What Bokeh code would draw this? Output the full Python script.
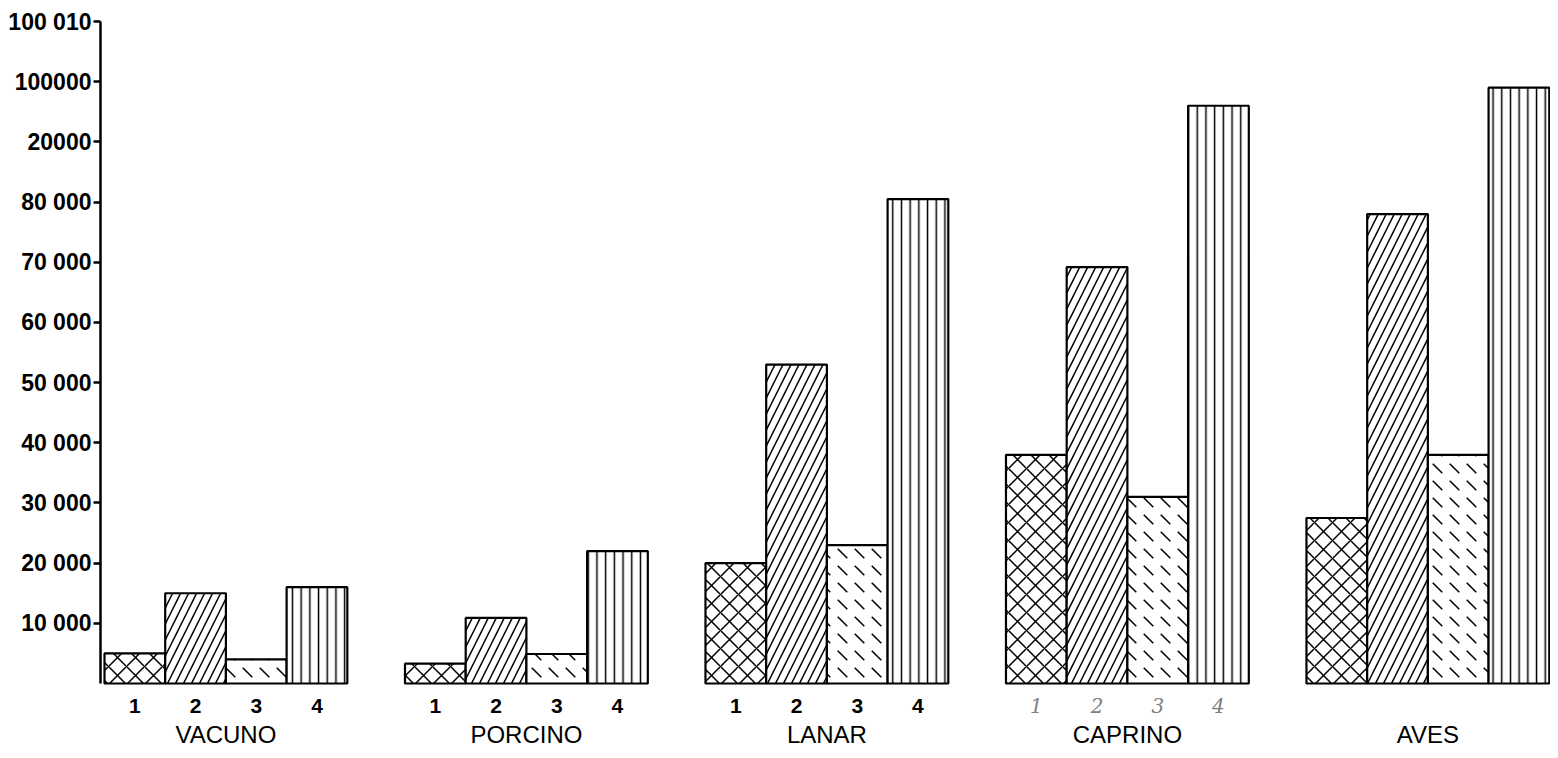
from bokeh.plotting import figure
from bokeh.models import ColumnDataSource, FixedTicker, Range1d
from bokeh.core.properties import value
from bokeh.embed import file_html
from bokeh.resources import INLINE

# ---- data ----
groups = ["VACUNO", "PORCINO", "LANAR", "CAPRINO", "AVES"]
serie_1 = [5000, 3300, 20000, 38000, 27500]
serie_2 = [15000, 10900, 53000, 69200, 78000]
serie_3 = [4000, 4900, 23000, 31000, 38000]
serie_4 = [16000, 22000, 80500, 96000, 99000]
bar_numbers = ["1", "2", "3", "4"]
y_ticks = [10000, 20000, 30000, 40000, 50000, 60000, 70000, 80000, 90000, 100000, 110000]
y_tick_labels = ["10 000", "20 000", "30 000", "40 000", "50 000", "60 000",
                 "70 000", "80 000", "20000", "100000", "100 010"]

# ---- layout constants ----
GROUP_STEP = 4.95
BAR_W = 1.0
FONT = "Liberation Sans"
PX = (683 - 21) / 110000.0          # pixels per unit on y
Y_START = -(750 - 683) / PX
Y_END = 110000 + 1 / PX

p = figure(width=1550, height=750, output_backend="svg", toolbar_location=None,
           x_range=Range1d(-0.066, 23.82), y_range=Range1d(Y_START, Y_END),
           min_border_left=100, min_border_right=0, min_border_top=20, min_border_bottom=0)
p.outline_line_color = None
p.grid.visible = False
p.xaxis.visible = False
p.background_fill_color = "white"
p.border_fill_color = "white"

series = [serie_1, serie_2, serie_3, serie_4]
patterns = ["diagonal_cross", "right_diagonal_line", "left_diagonal_dash", "vertical_line"]
scales = [18, 16, 17, 8.7]

for i, (vals, pat, sc) in enumerate(zip(series, patterns, scales)):
    xs = [g * GROUP_STEP + i + BAR_W / 2 for g in range(len(groups))]
    src = ColumnDataSource(dict(x=xs, top=vals))
    p.vbar(x="x", top="top", bottom=0, width=BAR_W, source=src,
           fill_color="white", line_color="black", line_width=2.2,
           hatch_pattern=pat, hatch_scale=sc, hatch_weight=1.5, hatch_color="black")

# y axis
ax = p.yaxis[0]
ax.bounds = (0, 110000)
ax.ticker = FixedTicker(ticks=y_ticks)
ax.major_label_overrides = {t: l for t, l in zip(y_ticks, y_tick_labels)}
ax.axis_line_width = 2.5
ax.axis_line_color = "black"
ax.major_tick_line_width = 2.5
ax.major_tick_line_color = "black"
ax.major_tick_out = 7
ax.major_tick_in = 0
ax.minor_tick_line_color = None
ax.major_label_standoff = 2
ax.major_label_text_font = FONT
ax.major_label_text_font_style = "bold"
ax.major_label_text_font_size = "23px"
ax.major_label_text_color = "black"

num_y = -22 / PX
name_y = -51 / PX

# printed numbers under the first three groups
nx, nt, ny = [], [], []
for g in range(3):
    for i, n in enumerate(bar_numbers):
        nx.append(g * GROUP_STEP + i + BAR_W / 2)
        nt.append(n)
        ny.append(num_y)
num_src = ColumnDataSource(dict(x=nx, y=ny, t=nt))
p.text(x="x", y="y", text="t", source=num_src,
       text_align="center", text_baseline="middle",
       text_font=value(FONT), text_font_style="bold",
       text_font_size="21px", text_color="black")

# handwritten numbers under CAPRINO
hx = [3 * GROUP_STEP + i + BAR_W / 2 for i in range(len(bar_numbers))]
hw_src = ColumnDataSource(dict(x=hx, y=[num_y] * len(hx), t=bar_numbers))
p.text(x="x", y="y", text="t", source=hw_src,
       text_align="center", text_baseline="middle",
       text_font=value("DejaVu Serif"), text_font_style="italic",
       text_font_size="20px", text_color="#808080")

# group names
gx = [g * GROUP_STEP + 2 for g in range(len(groups))]
g_src = ColumnDataSource(dict(x=gx, y=[name_y] * len(groups), t=groups))
p.text(x="x", y="y", text="t", source=g_src,
       text_align="center", text_baseline="middle",
       text_font=value(FONT), text_font_size="24px",
       text_color="black")

open("out.html", "w").write(file_html(p, INLINE))
